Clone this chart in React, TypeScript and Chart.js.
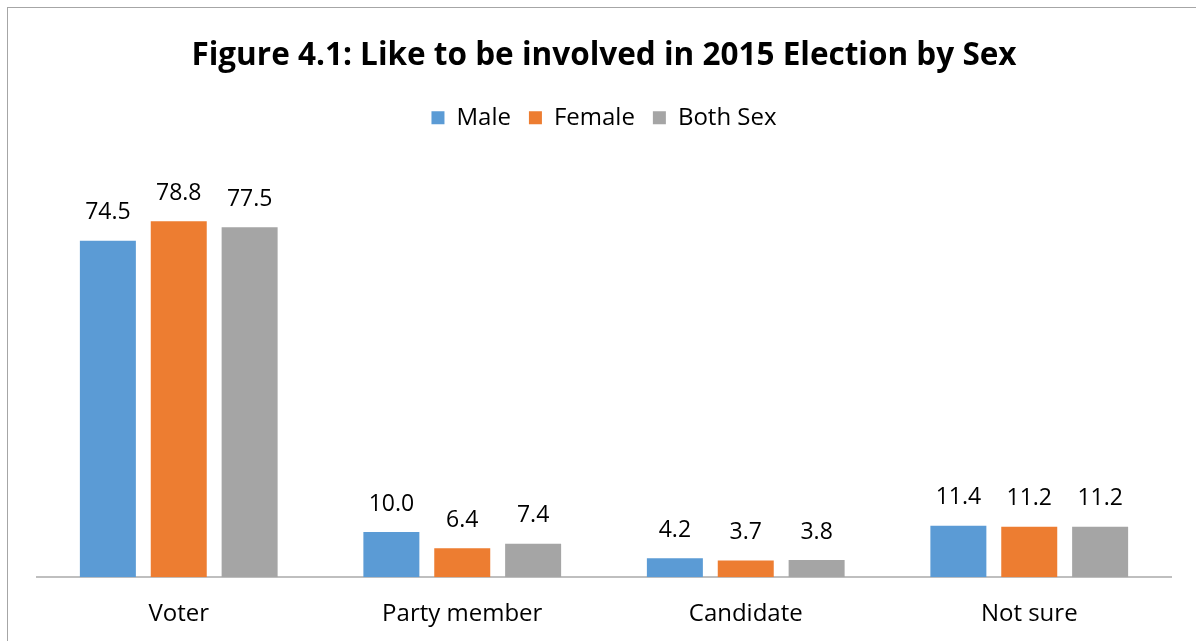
import React, { useEffect, useRef } from "react";
import { Chart, registerables } from "chart.js";

Chart.register(...registerables);

const categories = ["Voter", "Party member", "Candidate", "Not sure"];
const maleValues = [74.5, 10.0, 4.2, 11.4];
const femaleValues = [78.8, 6.4, 3.7, 11.2];
const bothSexValues = [77.5, 7.4, 3.8, 11.2];
const seriesNames = ["Male", "Female", "Both Sex"];
const titleText = "Figure 4.1: Like to be involved in 2015 Election by Sex";

const FONT = "'Open Sans', 'DejaVu Sans', sans-serif";

const dataLabels = {
  id: "dataLabels",
  afterDatasetsDraw(chart: any) {
    const ctx = chart.ctx;
    ctx.save();
    ctx.font = `23px ${FONT}`;
    ctx.fillStyle = "#000000";
    ctx.textAlign = "center";
    ctx.textBaseline = "middle";
    chart.data.datasets.forEach((ds: any, i: number) => {
      const meta = chart.getDatasetMeta(i);
      meta.data.forEach((bar: any, j: number) => {
        const v = ds.data[j];
        ctx.fillText(v.toFixed(1), bar.x, bar.y - 28);
      });
    });
    ctx.restore();
  },
};

const legendMargin = {
  id: "legendMargin",
  beforeInit(chart: any) {
    const orig = chart.legend.fit;
    chart.legend.fit = function fit() {
      orig.bind(chart.legend)();
      this.height += 31;
    };
  },
};

export default function App() {
  const ref = useRef<HTMLCanvasElement | null>(null);
  useEffect(() => {
    document.documentElement.style.overflow = "hidden";
    document.body.style.overflow = "hidden";
    const chart = new Chart(ref.current!, {
      type: "bar",
      data: {
        labels: categories,
        datasets: [
          { label: seriesNames[0], data: maleValues, backgroundColor: "#5B9BD5" },
          { label: seriesNames[1], data: femaleValues, backgroundColor: "#ED7D31" },
          { label: seriesNames[2], data: bothSexValues, backgroundColor: "#A5A5A5" },
        ],
      },
      options: {
        responsive: false,
        animation: false,
        layout: { padding: { left: 29, right: 25, top: 0, bottom: 0 } },
        datasets: {
          bar: { barPercentage: 0.79, categoryPercentage: 0.75 },
        },
        scales: {
          x: {
            grid: { display: false, drawTicks: false },
            border: { display: true, color: "#BFBFBF", width: 2 },
            ticks: { color: "#000000", font: { family: FONT, size: 24 }, padding: 23 },
          },
          y: {
            display: false,
            min: 0,
            max: 90,
          },
        },
        plugins: {
          title: {
            display: true,
            text: titleText,
            color: "#000000",
            font: { family: FONT, size: 31.5, weight: "bold" },
            padding: { top: 29, bottom: 13 },
          },
          legend: {
            display: true,
            position: "top",
            labels: {
              color: "#000000",
              font: { family: FONT, size: 24 },
              boxWidth: 13,
              boxHeight: 13,
              padding: 18,
            },
          },
          tooltip: { enabled: false },
        },
      },
      plugins: [dataLabels, legendMargin],
    } as any);
    return () => chart.destroy();
  }, []);
  return (
    <div
      style={{
        position: "fixed",
        left: 7,
        top: 7,
        width: 1300,
        height: 700,
        border: "1px solid #A6A6A6",
        background: "#fff",
      }}
    >
      <canvas ref={ref} width={1188} height={644} style={{ display: "block" }} />
    </div>
  );
}
